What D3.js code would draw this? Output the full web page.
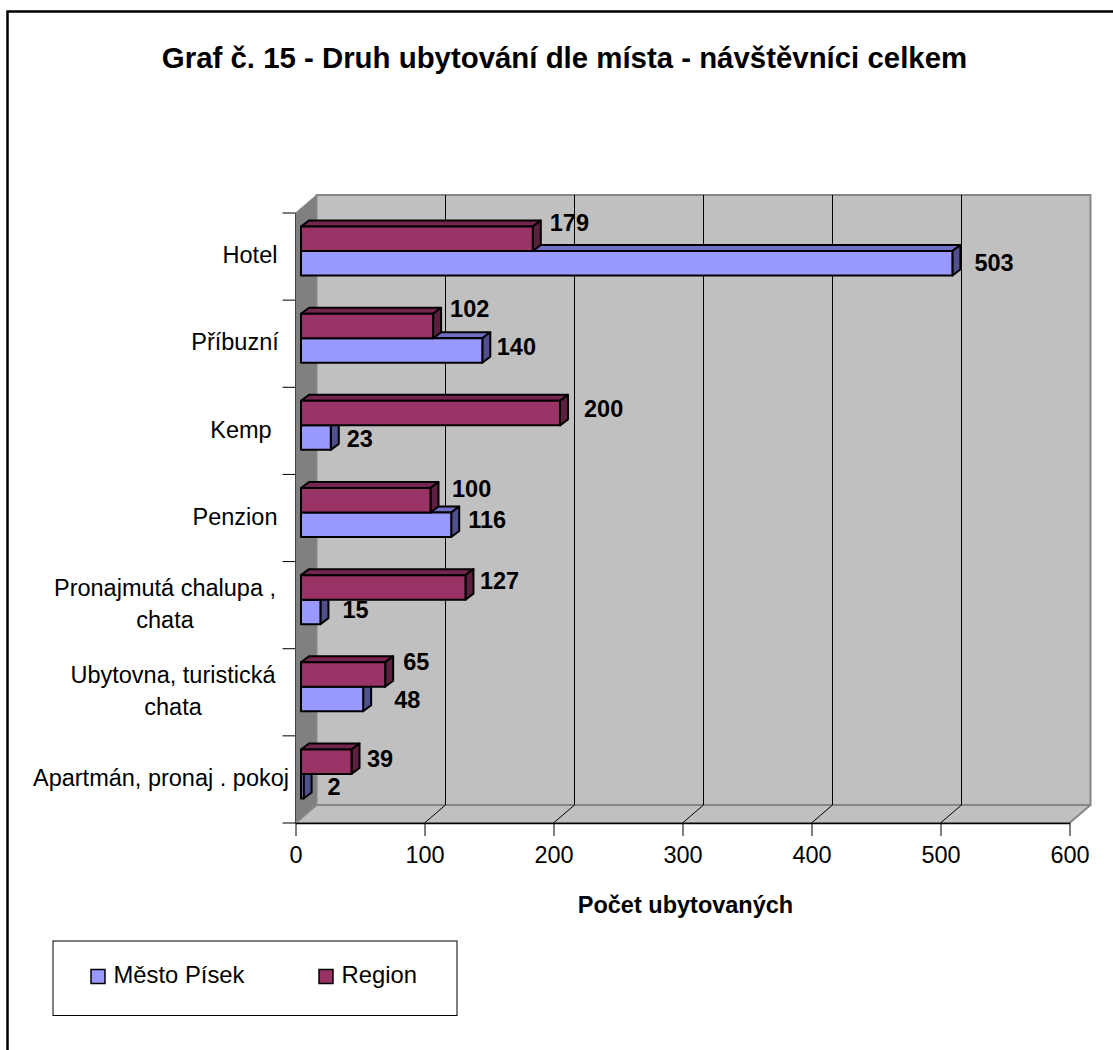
<!DOCTYPE html>
<html>
<head>
<meta charset="utf-8">
<script src="https://cdn.jsdelivr.net/npm/d3@7"></script>
<style>
    html, body { margin: 0; padding: 0; background: #fff; }
    svg { display: block; font-family: "Liberation Sans", Arial, sans-serif; }
</style>
</head>
<body>
<svg width="1113" height="1050"></svg>
<script>
const categories = ['Hotel', 'Příbuzní', 'Kemp', 'Penzion', 'Pronajmutá chalupa , chata', 'Ubytovna, turistická chata', 'Apartmán, pronaj . pokoj'];
const mestoPisek = [503, 140, 23, 116, 15, 48, 2];
const region = [179, 102, 200, 100, 127, 65, 39];
const xTicks = [0, 100, 200, 300, 400, 500, 600];

const svg = d3.select('svg');

// 3D depth of the plot box
const depthX = 21, depthY = 18;
const barDepthX = 8, barDepthY = 6;

const x = d3.scaleLinear().domain([0, 600]).range([295.5, 1069.5]);
const xBar = d3.scaleLinear().domain([0, 600]).range([301, 1078]);
const y = d3.scaleBand().domain(categories).range([213, 823]);
const top0 = y.range()[0], bottom0 = y.range()[1];

const poly = (pts, fill, stroke, sw) => svg.append('polygon')
    .attr('points', pts.map(p => p.join(',')).join(' '))
    .attr('fill', fill)
    .attr('stroke', stroke || 'none')
    .attr('stroke-width', sw || 0)
    .attr('stroke-linejoin', 'round');

// frame, open on the right and at the bottom like the original
svg.append('path')
    .attr('d', 'M7.5,1050V11.5H1113')
    .attr('fill', 'none').attr('stroke', '#000').attr('stroke-width', 2.5);

svg.append('text').attr('x', 564.5).attr('y', 68)
    .attr('text-anchor', 'middle').attr('font-size', 29.4).attr('font-weight', 'bold')
    .text('Graf č. 15 - Druh ubytování dle místa - návštěvníci celkem');

// walls
const xa = x(0), xb = x(600);
poly([[xa + depthX, top0 - depthY], [xb + depthX, top0 - depthY], [xb + depthX, bottom0 - depthY], [xa + depthX, bottom0 - depthY]], '#c0c0c0', '#868686', 2);
poly([[xa, top0], [xa + depthX, top0 - depthY], [xa + depthX, bottom0 - depthY], [xa, bottom0]], '#808080', '#868686', 1);
poly([[xa, bottom0], [xa + depthX, bottom0 - depthY], [xb + depthX, bottom0 - depthY], [xb, bottom0]], '#c0c0c0', '#868686', 2);

// gridlines on the back wall and floor
xTicks.slice(1, -1).forEach(t => {
    svg.append('path')
        .attr('d', `M${x(t)},${bottom0}L${x(t) + depthX},${bottom0 - depthY}V${top0 - depthY}`)
        .attr('fill', 'none').attr('stroke', '#000').attr('stroke-width', 1);
});

// axes
const xAxis = d3.axisBottom(x).tickValues(xTicks).tickSize(13).tickPadding(10).tickSizeOuter(0);
const gx = svg.append('g').attr('transform', `translate(0,${bottom0})`).call(xAxis);
gx.select('.domain').attr('stroke', '#000').attr('stroke-width', 1.5);
gx.selectAll('text').attr('font-size', 23.5).attr('font-family', '"Liberation Sans", Arial, sans-serif').attr('fill', '#000');

const yTicks = d3.range(categories.length + 1).map(i => top0 + i * y.step());
svg.selectAll('.ytick').data(yTicks).enter().append('line')
    .attr('x1', xa - 13).attr('x2', xa).attr('y1', d => d).attr('y2', d => d)
    .attr('stroke', '#000');
svg.append('line').attr('x1', xa).attr('x2', xa).attr('y1', top0).attr('y2', bottom0)
    .attr('stroke', '#444');

// category labels, wrapped like the original
const labelLines = [['Hotel'], ['Příbuzní'], ['Kemp'], ['Penzion'], ['Pronajmutá chalupa ,', 'chata'], ['Ubytovna, turistická', 'chata'], ['Apartmán, pronaj . pokoj']];
const labelCenter = [250, 235, 241, 235, 165, 173, 161];
categories.forEach((c, i) => {
    const lines = labelLines[i];
    const cy = y(c) + y.bandwidth() / 2;
    lines.forEach((l, j) => {
        svg.append('text')
            .attr('x', labelCenter[i])
            .attr('y', cy + (j - (lines.length - 1) / 2) * 32 - 1.5)
            .attr('text-anchor', 'middle').attr('font-size', 23.5).attr('dy', '0.35em')
            .text(l);
    });
});

// one 3D bar: front face, top and right side
function bar(v, yTop, h, face, topCol, sideCol) {
    const x0 = xBar(0), x1 = xBar(v);
    poly([[x0, yTop], [x0 + barDepthX, yTop - barDepthY], [x1 + barDepthX, yTop - barDepthY], [x1, yTop]], topCol, '#000', 2);
    poly([[x1, yTop], [x1 + barDepthX, yTop - barDepthY], [x1 + barDepthX, yTop + h - barDepthY], [x1, yTop + h]], sideCol, '#000', 2);
    poly([[x0, yTop], [x1, yTop], [x1, yTop + h], [x0, yTop + h]], face, '#000', 2);
}

const barH = 24.5;
// value label nudges, the original placed these by hand
const mestoLabelDx = [14, 6.5, 8, 9, 14, 23, 16];
const regionLabelDx = [9, 9, 16, 13.5, 6.5, 10, 7.5];
const mestoLabelDy = [14, 11, 16, 10, 13, 16, 16];
const regionLabelDy = [-26, -27, -14, -21, -16, -22, -12];

categories.forEach((c, i) => {
    const cy = y(c) + y.bandwidth() / 2;
    const mid = cy - 5.5;
    // bottom bar first so the upper one sits over its top face
    bar(mestoPisek[i], mid, barH, '#9999ff', '#6f6fc4', '#50508c');
    bar(region[i], mid - barH, barH, '#993366', '#742650', '#5c1f3d');
    svg.append('text').attr('x', xBar(mestoPisek[i]) + barDepthX + mestoLabelDx[i])
        .attr('y', cy + mestoLabelDy[i])
        .attr('font-size', 23.5).attr('font-weight', 'bold').text(mestoPisek[i]);
    svg.append('text').attr('x', xBar(region[i]) + barDepthX + regionLabelDx[i])
        .attr('y', cy + regionLabelDy[i])
        .attr('font-size', 23.5).attr('font-weight', 'bold').text(region[i]);
});

svg.append('text').attr('x', 685.5).attr('y', 913)
    .attr('text-anchor', 'middle').attr('font-size', 23.5).attr('font-weight', 'bold')
    .text('Počet ubytovaných');

// legend
svg.append('rect').attr('x', 53).attr('y', 941).attr('width', 404).attr('height', 74.5)
    .attr('fill', '#fff').attr('stroke', '#000').attr('stroke-width', 1);
const legendItems = [['Město Písek', '#9999ff', 91], ['Region', '#993366', 319]];
legendItems.forEach(d => {
    svg.append('rect').attr('x', d[2]).attr('y', 969.5).attr('width', 14).attr('height', 14)
        .attr('fill', d[1]).attr('stroke', '#000').attr('stroke-width', 1.5);
    svg.append('text').attr('x', d[2] + 22.5).attr('y', 983).attr('font-size', 23.8).text(d[0]);
});
</script>
</body>
</html>
